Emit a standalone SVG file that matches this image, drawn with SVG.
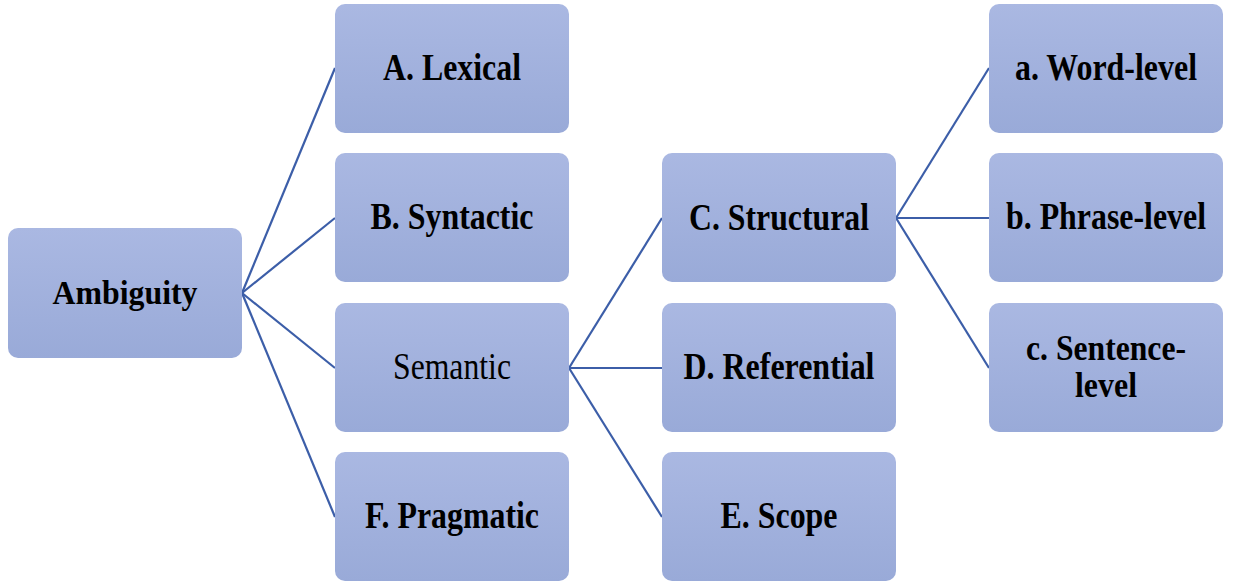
<svg xmlns="http://www.w3.org/2000/svg" width="1237" height="582" viewBox="0 0 1237 582">
<defs>
<linearGradient id="g" x1="0" y1="0" x2="0" y2="1">
<stop offset="0" stop-color="#aab8e2"/>
<stop offset="1" stop-color="#99aad8"/>
</linearGradient>
<style>
.box{fill:url(#g);}
.t{font-family:"Liberation Serif","Times New Roman",serif;font-weight:bold;font-size:37px;fill:#000;text-anchor:middle;}
.r{font-weight:normal;}
.c{fill:none;stroke:#3c5ea8;stroke-width:2.2;}
</style>
</defs>
<rect width="1237" height="582" fill="#fff"/>
<g id="connectors">
<line class="c" x1="242" y1="293" x2="335" y2="68"/>
<line class="c" x1="242" y1="293" x2="335" y2="218"/>
<line class="c" x1="242" y1="293" x2="335" y2="368"/>
<line class="c" x1="242" y1="293" x2="335" y2="517"/>
<line class="c" x1="569" y1="368" x2="662" y2="218"/>
<line class="c" x1="569" y1="368" x2="662" y2="368"/>
<line class="c" x1="569" y1="368" x2="662" y2="517"/>
<line class="c" x1="896" y1="218" x2="989" y2="68"/>
<line class="c" x1="896" y1="218" x2="989" y2="218"/>
<line class="c" x1="896" y1="218" x2="989" y2="368"/>
</g>
<g id="ambiguity"><rect class="box" x="8" y="228" width="234" height="130" rx="10"/><text class="t" x="125" y="304" style="font-size:34px" textLength="145" lengthAdjust="spacingAndGlyphs">Ambiguity</text></g>
<g id="lexical"><rect class="box" x="335" y="4" width="234" height="129" rx="10"/><text class="t" x="452" y="80" textLength="138" lengthAdjust="spacingAndGlyphs">A. Lexical</text></g>
<g id="syntactic"><rect class="box" x="335" y="153" width="234" height="129" rx="10"/><text class="t" x="452" y="229" textLength="163" lengthAdjust="spacingAndGlyphs">B. Syntactic</text></g>
<g id="semantic"><rect class="box" x="335" y="303" width="234" height="129" rx="10"/><text class="t r" x="452" y="379" textLength="118" lengthAdjust="spacingAndGlyphs">Semantic</text></g>
<g id="pragmatic"><rect class="box" x="335" y="452" width="234" height="129" rx="10"/><text class="t" x="452" y="528" textLength="174" lengthAdjust="spacingAndGlyphs">F. Pragmatic</text></g>
<g id="structural"><rect class="box" x="662" y="153" width="234" height="129" rx="10"/><text class="t" x="779" y="230" textLength="180" lengthAdjust="spacingAndGlyphs">C. Structural</text></g>
<g id="referential"><rect class="box" x="662" y="303" width="234" height="129" rx="10"/><text class="t" x="779" y="379" textLength="191" lengthAdjust="spacingAndGlyphs">D. Referential</text></g>
<g id="scope"><rect class="box" x="662" y="452" width="234" height="129" rx="10"/><text class="t" x="779" y="528" textLength="117" lengthAdjust="spacingAndGlyphs">E. Scope</text></g>
<g id="word-level"><rect class="box" x="989" y="4" width="234" height="129" rx="10"/><text class="t" x="1106" y="80" textLength="182" lengthAdjust="spacingAndGlyphs">a. Word-level</text></g>
<g id="phrase-level"><rect class="box" x="989" y="153" width="234" height="129" rx="10"/><text class="t" x="1106" y="229" textLength="200" lengthAdjust="spacingAndGlyphs">b. Phrase-level</text></g>
<g id="sentence-level"><rect class="box" x="989" y="303" width="234" height="129" rx="10"/><text class="t" x="1106" y="360" style="font-size:35px" textLength="160" lengthAdjust="spacingAndGlyphs">c. Sentence-</text><text class="t" x="1106" y="397" style="font-size:35px" textLength="62" lengthAdjust="spacingAndGlyphs">level</text></g>
</svg>
